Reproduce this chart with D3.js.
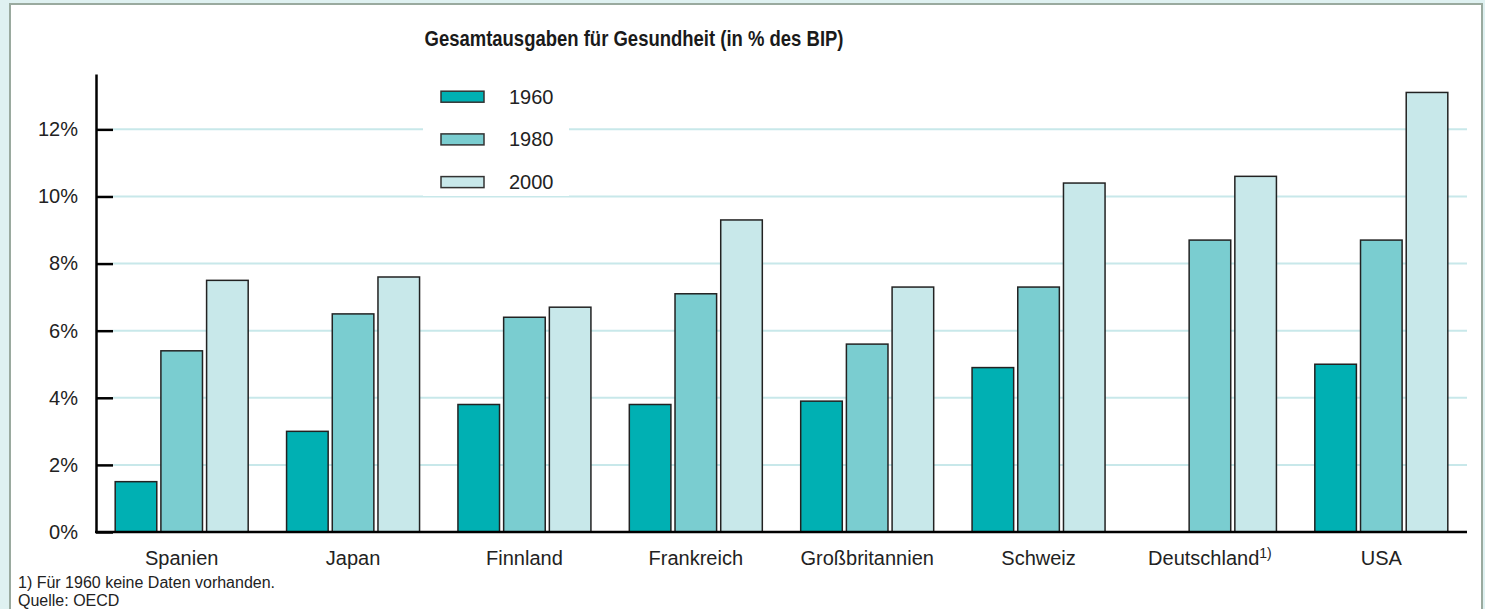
<!DOCTYPE html>
<html>
<head>
  <meta charset="utf-8">
  <script src="https://d3js.org/d3.v7.min.js"></script>
  <title>Gesamtausgaben für Gesundheit</title>
</head>
<style>
html,body {
  margin: 0;
  padding: 0;
  background: #dff1f1;
  font-family: 'Liberation Sans', Arial, sans-serif;
}
svg { display: block; }
</style>
<body>
<script>
// Daten
var laender = ["Spanien", "Japan", "Finnland", "Frankreich", "Großbritannien", "Schweiz", "Deutschland", "USA"];
var jahre = ["1960", "1980", "2000"];
var werte1960 = [1.5, 3.0, 3.8, 3.8, 3.9, 4.9, null, 5.0];
var werte1980 = [5.4, 6.5, 6.4, 7.1, 5.6, 7.3, 8.7, 8.7];
var werte2000 = [7.5, 7.6, 6.7, 9.3, 7.3, 10.4, 10.6, 13.1];
var yTicks = [0, 2, 4, 6, 8, 10, 12];
var farben = ["#00b0b3", "#7acdd0", "#c8e8ea"];

var width = 1485, height = 609;
var xLinks = 96, xRechts = 1467, yBasis = 532, yOben = 74;

var svg = d3.select("body").append("svg")
  .attr("width", width)
  .attr("height", height);

// Rahmen
svg.append("rect")
  .attr("x", 10).attr("y", 4)
  .attr("width", 1472).attr("height", 620)
  .attr("fill", "#fff")
  .attr("stroke", "#9aaa9f")
  .attr("stroke-width", 2);

var y = d3.scaleLinear().domain([0, 13.65]).range([yBasis, yOben]);

var x0 = d3.scaleBand().domain(laender).range([xLinks, xRechts])
  .paddingInner(0.224).paddingOuter(0.112);
var x1 = d3.scaleBand().domain(jahre).range([0, x0.bandwidth()])
  .paddingInner(0.09);

// Gitterlinien
svg.append("g").selectAll("line")
  .data(yTicks.filter(function(d) { return d > 0; }))
  .enter().append("line")
  .attr("x1", xLinks + 17).attr("x2", xRechts)
  .attr("y1", function(d) { return y(d); })
  .attr("y2", function(d) { return y(d); })
  .attr("stroke", "#c8e8ea")
  .attr("stroke-width", 2);

// Titel
svg.append("text")
  .attr("x", 634).attr("y", 46)
  .attr("text-anchor", "middle")
  .attr("font-size", 22)
  .attr("font-weight", "bold")
  .attr("fill", "#1a1a1a")
  .attr("textLength", 419)
  .attr("lengthAdjust", "spacingAndGlyphs")
  .text("Gesamtausgaben für Gesundheit (in % des BIP)");

// Legende
var legende = svg.append("g");
legende.append("rect")
  .attr("x", 423).attr("y", 72)
  .attr("width", 146).attr("height", 124)
  .attr("fill", "#fff");
var li = legende.selectAll("g.item")
  .data(jahre)
  .enter().append("g")
  .attr("class", "item")
  .attr("transform", function(d, i) { return "translate(441," + (96.7 + i * 42.7) + ")"; });
li.append("rect")
  .attr("x", 0).attr("y", -5.5)
  .attr("width", 43).attr("height", 11)
  .attr("fill", function(d, i) { return farben[i]; })
  .attr("stroke", "#333")
  .attr("stroke-width", 1.5);
li.append("text")
  .attr("x", 68).attr("dy", "0.35em")
  .attr("font-size", 20)
  .attr("fill", "#222")
  .text(function(d) { return d; });

// Balken
var serien = [werte1960, werte1980, werte2000];
var gruppe = svg.append("g").selectAll("g")
  .data(laender)
  .enter().append("g")
  .attr("transform", function(d) { return "translate(" + x0(d) + ",0)"; });

gruppe.selectAll("rect")
  .data(function(d, i) {
    return jahre.map(function(j, k) { return { jahr: j, wert: serien[k][i], k: k }; })
      .filter(function(e) { return e.wert != null; });
  })
  .enter().append("rect")
  .attr("x", function(d) { return x1(d.jahr); })
  .attr("y", function(d) { return y(d.wert); })
  .attr("width", x1.bandwidth())
  .attr("height", function(d) { return yBasis - y(d.wert); })
  .attr("fill", function(d) { return farben[d.k]; })
  .attr("stroke", "#222")
  .attr("stroke-width", 1.5);

// Y-Achse
var yAxis = svg.append("g")
  .attr("transform", "translate(" + xLinks + ",0)")
  .call(d3.axisLeft(y)
    .tickValues(yTicks)
    .tickFormat(function(d) { return d + "%"; })
    .tickSizeInner(-17)
    .tickSizeOuter(0)
    .tickPadding(18));
yAxis.select(".domain").attr("stroke", "#000").attr("stroke-width", 2.5);
yAxis.selectAll(".tick line").attr("stroke", "#000").attr("stroke-width", 2.5);
yAxis.selectAll(".tick text")
  .attr("font-size", 20)
  .attr("font-family", "'Liberation Sans', Arial, sans-serif")
  .attr("fill", "#222");

// X-Achse
svg.append("line")
  .attr("x1", xLinks - 1).attr("x2", xRechts)
  .attr("y1", yBasis).attr("y2", yBasis)
  .attr("stroke", "#000")
  .attr("stroke-width", 2.5);

var xl = svg.append("g").selectAll("text")
  .data(laender)
  .enter().append("text")
  .attr("x", function(d) { return x0(d) + x0.bandwidth() / 2; })
  .attr("y", 565)
  .attr("text-anchor", "middle")
  .attr("font-size", 20)
  .attr("fill", "#222")
  .text(function(d) { return d; });
xl.filter(function(d) { return d === "Deutschland"; })
  .append("tspan")
  .attr("font-size", 14)
  .attr("dy", -7)
  .text("1)");

// Fußnoten
svg.append("text")
  .attr("x", 18).attr("y", 588)
  .attr("font-size", 16)
  .attr("fill", "#222")
  .text("1) Für 1960 keine Daten vorhanden.");
svg.append("text")
  .attr("x", 18).attr("y", 606)
  .attr("font-size", 16)
  .attr("fill", "#222")
  .text("Quelle: OECD");
</script>
</body>
</html>
